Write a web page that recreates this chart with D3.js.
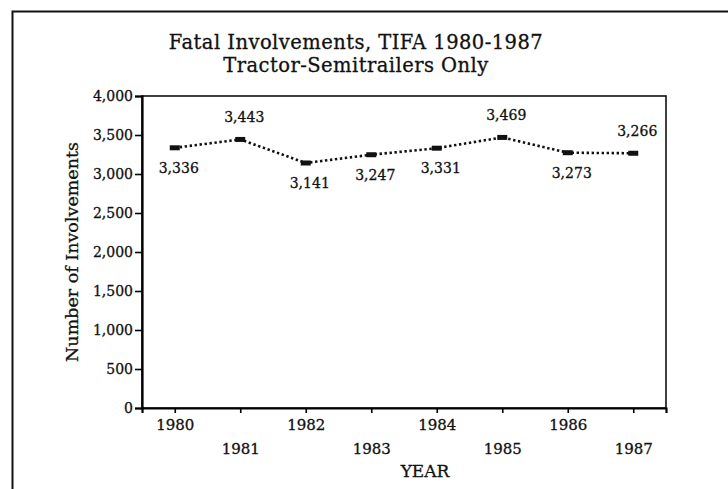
<!DOCTYPE html>
<html>
<head>
<meta charset="utf-8">
<script src="https://cdn.jsdelivr.net/npm/d3@7"></script>
<style>
  body { margin: 0; background: #fff; }
  svg { display: block; font-family: "DejaVu Serif", serif; }
  svg text { stroke: #111; stroke-width: 0.3px; }
</style>
</head>
<body>
<svg id="chart" width="728" height="489"></svg>
<script>
// ── Data ──────────────────────────────────────────────────────────────────────
const years  = ["1980", "1981", "1982", "1983", "1984", "1985", "1986", "1987"];
const counts = [3336, 3443, 3141, 3247, 3331, 3469, 3273, 3266];
const labelSide = ["below", "above", "below", "below", "below", "above", "below", "above"];
const yTicks = [0, 500, 1000, 1500, 2000, 2500, 3000, 3500, 4000];
const titleLines = ["Fatal Involvements, TIFA 1980-1987", "Tractor-Semitrailers Only"];

// ── Layout ────────────────────────────────────────────────────────────────────
const W = 728, H = 489;
const M = { top: 96, right: 62, bottom: 81, left: 142 };
const iW = W - M.left - M.right;
const iH = H - M.top - M.bottom;

const svg = d3.select("#chart");

// outer frame: left and top edges only (bottom/right cropped in the scan)
svg.append("path")
  .attr("d", `M12.5,${H} V11.5 H${W}`)
  .attr("fill", "none")
  .attr("stroke", "#111")
  .attr("stroke-width", 2);

// title, two separate lines
svg.selectAll(".title")
  .data(titleLines)
  .join("text")
  .attr("class", "title")
  .attr("x", 356)
  .attr("y", (d, i) => 48.5 + i * 23)
  .attr("text-anchor", "middle")
  .attr("font-size", 19.5)
  .attr("letter-spacing", 0.45)
  .attr("fill", "#111")
  .text(d => d);

const g = svg.append("g").attr("transform", `translate(${M.left},${M.top})`);

const x = d3.scalePoint().domain(years).range([0, iW]).padding(0.5);
const y = d3.scaleLinear().domain([0, 4000]).range([iH, 0]);

// plot box
g.append("rect")
  .attr("width", iW).attr("height", iH)
  .attr("fill", "none")
  .attr("stroke", "#111")
  .attr("stroke-width", 1.6);

// y axis
const yAxis = g.append("g")
  .call(d3.axisLeft(y).tickValues(yTicks).tickSize(7).tickPadding(2)
    .tickFormat(d3.format(",")));
yAxis.select(".domain").attr("stroke-width", 2.2);
yAxis.selectAll(".tick line").attr("stroke-width", 1.6);
yAxis.selectAll("text").attr("font-size", 14).attr("font-family", "DejaVu Serif").attr("fill", "#111");

// x axis, labels staggered on two rows
const xAxis = g.append("g")
  .attr("transform", `translate(0,${iH})`)
  .call(d3.axisBottom(x).tickSize(5).tickPadding(6));
xAxis.select(".domain").attr("stroke-width", 2.2);
xAxis.selectAll(".tick line").attr("stroke-width", 1.6);
xAxis.selectAll("text")
  .attr("font-size", 15).attr("font-family", "DejaVu Serif").attr("fill", "#111")
  .attr("dy", (d, i) => i % 2 ? "2.3em" : "0.71em");

// axis titles
svg.append("text")
  .attr("text-anchor", "middle")
  .attr("transform", `translate(78,${M.top + iH / 2}) rotate(-90)`)
  .attr("font-size", 17.5)
  .attr("fill", "#111")
  .text("Number of Involvements");

svg.append("text")
  .attr("x", M.left + iW / 2 + 21)
  .attr("y", 477)
  .attr("text-anchor", "middle")
  .attr("font-size", 17)
  .attr("fill", "#111")
  .text("YEAR");

// dotted line
const pts = years.map((yr, i) => ({ yr, v: counts[i], side: labelSide[i] }));

g.append("path")
  .datum(pts)
  .attr("fill", "none")
  .attr("stroke", "#111")
  .attr("stroke-width", 2.6)
  .attr("stroke-dasharray", "2.4,2.6")
  .attr("d", d3.line().x(d => x(d.yr)).y(d => y(d.v)));

// markers
g.selectAll(".mk")
  .data(pts)
  .join("rect")
  .attr("class", "mk")
  .attr("x", d => x(d.yr) - 5)
  .attr("y", d => y(d.v) - 2.5)
  .attr("width", 10)
  .attr("height", 5)
  .attr("fill", "#111");

// value labels
g.selectAll(".lbl")
  .data(pts)
  .join("text")
  .attr("class", "lbl")
  .attr("x", d => x(d.yr) + 4)
  .attr("y", d => y(d.v) + (d.side === "above" ? -22 : 20))
  .attr("dy", "0.35em")
  .attr("text-anchor", "middle")
  .attr("font-size", 14)
  .attr("fill", "#111")
  .text(d => d3.format(",")(d.v));
</script>
</body>
</html>
